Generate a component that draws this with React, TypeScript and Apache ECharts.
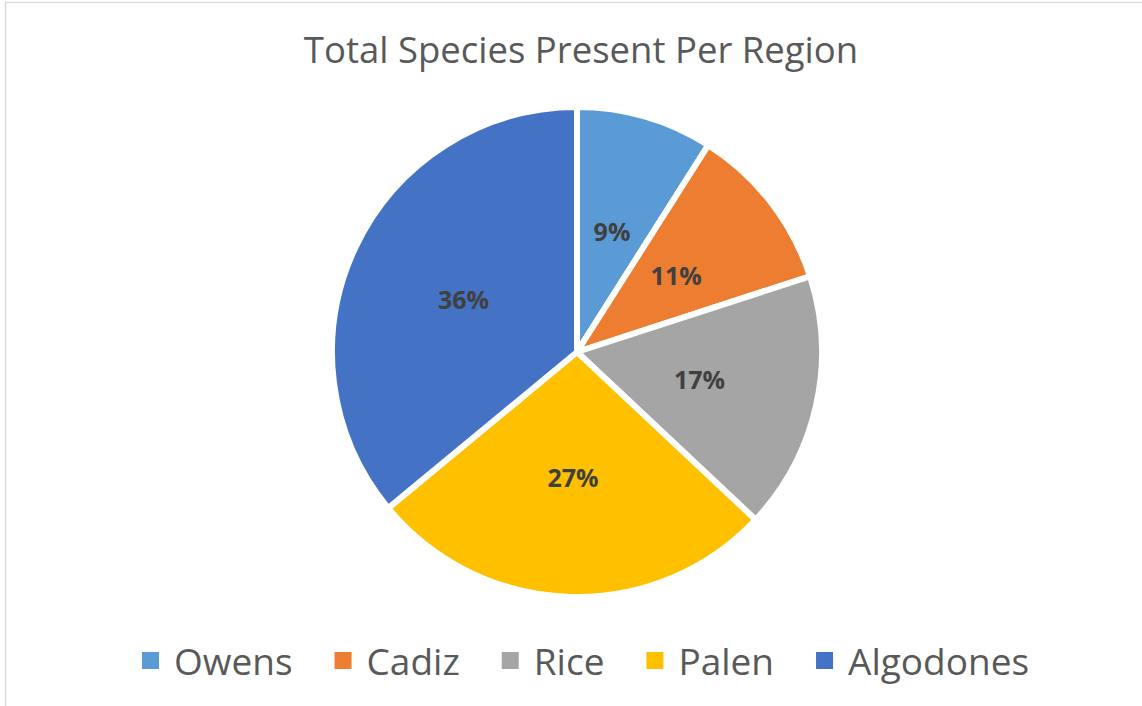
import React, { useEffect, useRef } from "react";
import * as echarts from "echarts";

const regions = ["Owens", "Cadiz", "Rice", "Palen", "Algodones"];
const shares = [9, 11, 17, 27, 36];
const colors = ["#5B9BD5", "#ED7D31", "#A5A5A5", "#FFC000", "#4472C4"];
const titleText = "Total Species Present Per Region";

export default function App() {
  const ref = useRef<HTMLDivElement>(null);
  useEffect(() => {
    if (!ref.current) return;
    const chart = echarts.init(ref.current, undefined, { renderer: "svg" });
    chart.setOption({
      animation: false,
      backgroundColor: "#ffffff",
      color: colors,
      title: {
        text: titleText,
        left: 576,
        textAlign: "center",
        top: 25,
        textStyle: {
          fontFamily: "Open Sans",
          fontSize: 36.5,
          fontWeight: "normal",
          color: "#595959",
        },
      },
      legend: {
        data: regions,
        left: 135,
        top: 637,
        icon: "rect",
        itemWidth: 19,
        itemHeight: 19,
        itemGap: 40,
        textStyle: {
          fontFamily: "Open Sans",
          fontSize: 37,
          color: "#595959",
          padding: [0, 0, 0, 9],
        },
      },
      graphic: [
        {
          type: "rect",
          shape: { x: 5.5, y: 2.5, width: 1200, height: 800 },
          style: { fill: "none", stroke: "#d9d9d9", lineWidth: 1.5 },
          silent: true,
        },
      ],
      series: [
        {
          type: "pie",
          center: [577, 352],
          radius: [0, 245],
          startAngle: 90,
          clockwise: true,
          itemStyle: { borderColor: "#ffffff", borderWidth: 6 },
          label: {
            show: true,
            position: "inside",
            formatter: "{d}%",
            fontFamily: "Open Sans",
            fontSize: 25,
            fontWeight: "bold",
            color: "#404040",
          },
          labelLine: { show: false },
          emphasis: { disabled: true },
          data: regions.map((name, i) => ({ name, value: shares[i] })),
        },
      ],
    });
    return () => chart.dispose();
  }, []);
  return (
    <div
      ref={ref}
      style={{ position: "absolute", left: 0, top: 0, width: 1142, height: 706 }}
    />
  );
}
